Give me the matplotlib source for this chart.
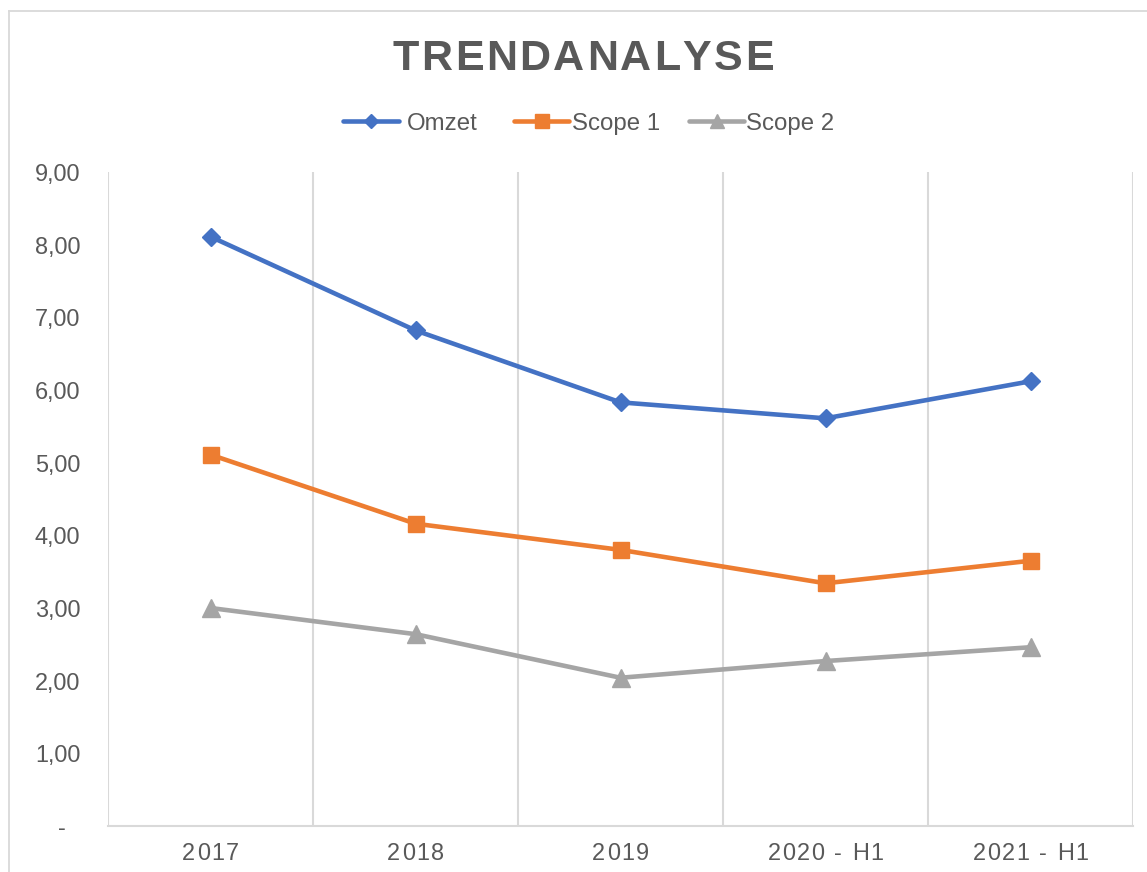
import matplotlib
matplotlib.use("Agg")
import matplotlib.pyplot as plt
from matplotlib.font_manager import FontProperties
from matplotlib.lines import Line2D
from matplotlib.transforms import ScaledTranslation

# ---- data ----
categories = ["2017", "2018", "2019", "2020 - H1", "2021 - H1"]
omzet = [8.11, 6.82, 5.83, 5.61, 6.12]
scope1 = [5.11, 4.16, 3.80, 3.34, 3.65]
scope2 = [3.00, 2.64, 2.04, 2.27, 2.46]
series_names = ["Omzet", "Scope 1", "Scope 2"]
y_ticks = [0, 1, 2, 3, 4, 5, 6, 7, 8, 9]
y_labels = ["-", "1,00", "2,00", "3,00", "4,00", "5,00", "6,00", "7,00", "8,00", "9,00"]
title = "TRENDANALYSE"

# ---- style ----
W, H = 1147, 872
BLUE, ORANGE, GRAY = "#4472C4", "#ED7D31", "#A5A5A5"
TXT = "#595959"
GRID = "#D9D9D9"
FONT = "Liberation Sans"
PX = 0.72  # px -> pt at dpi 100

fig = plt.figure(figsize=(W / 100, H / 100), dpi=100)
renderer = fig.canvas.get_renderer()

def fx(x):
    return x / W

def fy(y):
    return 1 - y / H

def char_widths(s, fp):
    base = renderer.get_text_width_height_descent("xx", fp, ismath=False)[0]
    out = []
    for c in s:
        w = renderer.get_text_width_height_descent("x" + c + "x", fp, ismath=False)[0] - base
        out.append(w)
    return out

def spaced_text(xc, y, s, size_px, spacing, weight="normal", color=TXT, va="baseline"):
    fp = FontProperties(family=FONT, size=size_px * PX, weight=weight)
    ws = char_widths(s, fp)
    total = sum(ws) + spacing * (len(s) - 1)
    cx = xc - total / 2
    for c, w in zip(s, ws):
        fig.text(fx(cx), fy(y), c, fontproperties=fp, color=color, ha="left", va=va)
        cx += w + spacing

# chart border (top + left, light gray)
fig.add_artist(Line2D([fx(9), fx(9)], [fy(11), fy(H + 5)], color=GRID, lw=1.3))
fig.add_artist(Line2D([fx(9), fx(W + 5)], [fy(11), fy(11)], color=GRID, lw=1.3))

# axes
left, right, top, bottom = 108, 1133, 172, 826
ax = fig.add_axes([fx(left), fy(bottom), fx(right - left), (bottom - top) / H])
x = list(range(len(categories)))

ax.plot(x, omzet, color=BLUE, lw=3.3, marker="D", ms=9, mec=BLUE, mfc=BLUE, zorder=3)
ax.plot(x, scope1, color=ORANGE, lw=3.3, marker="s", ms=12, mec=ORANGE, mfc=ORANGE, zorder=3)
ax.plot(x, scope2, color=GRAY, lw=3.3, marker="^", ms=12.5, mec=GRAY, mfc=GRAY, zorder=3)

ax.set_xlim(-0.5, len(categories) - 0.5)
ax.set_ylim(0, 9)
ax.set_xticks([i - 0.5 for i in range(len(categories) + 1)])
ax.set_xticklabels([])
ax.tick_params(axis="x", length=0)
ax.grid(axis="x", color=GRID, lw=1.5, zorder=0)
ax.set_axisbelow(True)

ax.set_yticks(y_ticks)
ax.set_yticklabels(y_labels, fontfamily=FONT, fontsize=23.5 * PX, color=TXT)
ax.tick_params(axis="y", length=0, pad=20)
lbl0 = ax.get_yticklabels()[0]
lbl0.set_transform(lbl0.get_transform() + ScaledTranslation(-0.14, 0, fig.dpi_scale_trans))

for s in ["top", "right", "left"]:
    ax.spines[s].set_visible(False)
ax.spines["bottom"].set_color(GRID)
ax.spines["bottom"].set_linewidth(1.5)

# x category labels (letter-spaced), positioned by the axes' data transform
for i, c in enumerate(categories):
    dx, _ = ax.transData.transform((i, 0))
    spaced_text(dx, 860, c, 23.5, 1.6, color=TXT)

# title
spaced_text(583, 70, title, 43, 2.6, weight="bold", color=TXT)

# legend
legend_items = [
    (series_names[0], BLUE, "D", 9, 343, 399, 407),
    (series_names[1], ORANGE, "s", 12, 514, 569, 572),
    (series_names[2], GRAY, "^", 12.5, 689, 744, 746),
]
ly = 121
for name, col, mk, ms, x0, x1, tx in legend_items:
    fig.add_artist(Line2D([fx(x0), fx(x1)], [fy(ly), fy(ly)], color=col, lw=3.3,
                          solid_capstyle="round"))
    fig.add_artist(Line2D([fx((x0 + x1) / 2)], [fy(ly)], color=col, marker=mk,
                          ms=ms * 0.8, mec=col, mfc=col, lw=0))
    fig.text(fx(tx), fy(129.5), name, fontfamily=FONT, fontsize=24 * PX, color=TXT,
             ha="left", va="baseline")

fig.savefig("out.png", dpi=100, facecolor="white")
